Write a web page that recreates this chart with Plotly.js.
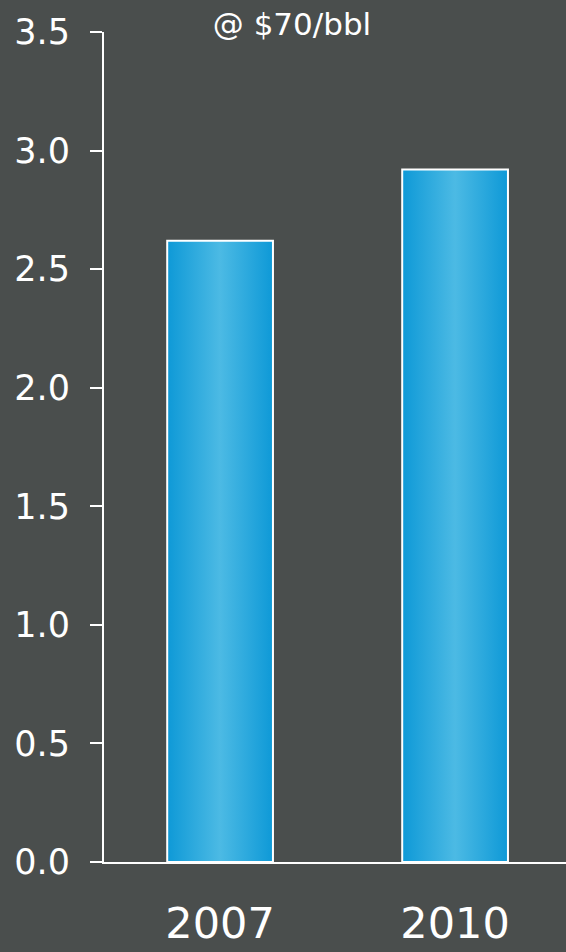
<!DOCTYPE html>
<html>
<head>
<meta charset="utf-8">
<script src="https://cdn.plot.ly/plotly-3.0.1.min.js"></script>
<style>
  html, body { margin: 0; padding: 0; background: #4a4e4d; }
  #chart { width: 566px; height: 952px; }
</style>
</head>
<body>
<div id="chart"></div>
<script>
const years = ['2007', '2010'];
const values = [2.62, 2.92];
const yTickVals = [0, 0.5, 1.0, 1.5, 2.0, 2.5, 3.0, 3.5];
const titleText = '@ $70/bbl';

const bg = '#4a4e4d';
const font = 'DejaVu Sans, Verdana, sans-serif';

const data = [{
  type: 'bar',
  x: [0, 1],
  y: values,
  width: 0.45,
  marker: { color: '#2aa9df', line: { color: '#ffffff', width: 2 } },
  hoverinfo: 'none'
}];

const layout = {
  width: 566, height: 952,
  paper_bgcolor: bg, plot_bgcolor: bg,
  margin: { l: 104, r: 0, t: 32, b: 90, pad: 0 },
  showlegend: false,
  title: {
    text: titleText,
    font: { family: font, size: 31, color: '#ffffff' },
    x: 292 / 566, xref: 'container', xanchor: 'center',
    y: 1 - 24 / 952, yref: 'container', yanchor: 'middle'
  },
  xaxis: {
    range: [-0.494, 1.472],
    tickvals: [0, 1], ticktext: years,
    showline: true, linecolor: '#ffffff', linewidth: 2,
    ticks: '', showgrid: false, zeroline: false,
    tickfont: { family: font, size: 43, color: '#ffffff' },
    ticklabelstandoff: 22
  },
  yaxis: {
    range: [0, 3.5],
    tickvals: yTickVals,
    tickformat: '.1f',
    showline: true, linecolor: '#ffffff', linewidth: 2,
    ticks: 'outside', ticklen: 12, tickwidth: 2, tickcolor: '#ffffff',
    showgrid: false, zeroline: false,
    tickfont: { family: font, size: 35, color: '#ffffff' },
    ticklabelstandoff: 13
  }
};

function applyGradient(gd) {
  const svg = gd.querySelector('svg.main-svg');
  if (!svg) return;
  const ns = 'http://www.w3.org/2000/svg';
  let defs = svg.querySelector('defs');
  if (!defs) { defs = document.createElementNS(ns, 'defs'); svg.insertBefore(defs, svg.firstChild); }
  if (!svg.querySelector('#barGrad')) {
    const lg = document.createElementNS(ns, 'linearGradient');
    lg.setAttribute('id', 'barGrad');
    lg.setAttribute('x1', '0'); lg.setAttribute('y1', '0');
    lg.setAttribute('x2', '1'); lg.setAttribute('y2', '0');
    [['0', '#0e99d7'], ['0.5', '#4cbae4'], ['1', '#0e99d7']].forEach(([o, c]) => {
      const s = document.createElementNS(ns, 'stop');
      s.setAttribute('offset', o); s.setAttribute('stop-color', c);
      lg.appendChild(s);
    });
    defs.appendChild(lg);
  }
  gd.querySelectorAll('.barlayer .point path').forEach(p => { p.style.fill = 'url(#barGrad)'; });
}

const gd = document.getElementById('chart');
Plotly.newPlot(gd, data, layout, { staticPlot: true, displayModeBar: false }).then(() => {
  applyGradient(gd);
  gd.on('plotly_afterplot', () => applyGradient(gd));
});
</script>
</body>
</html>
